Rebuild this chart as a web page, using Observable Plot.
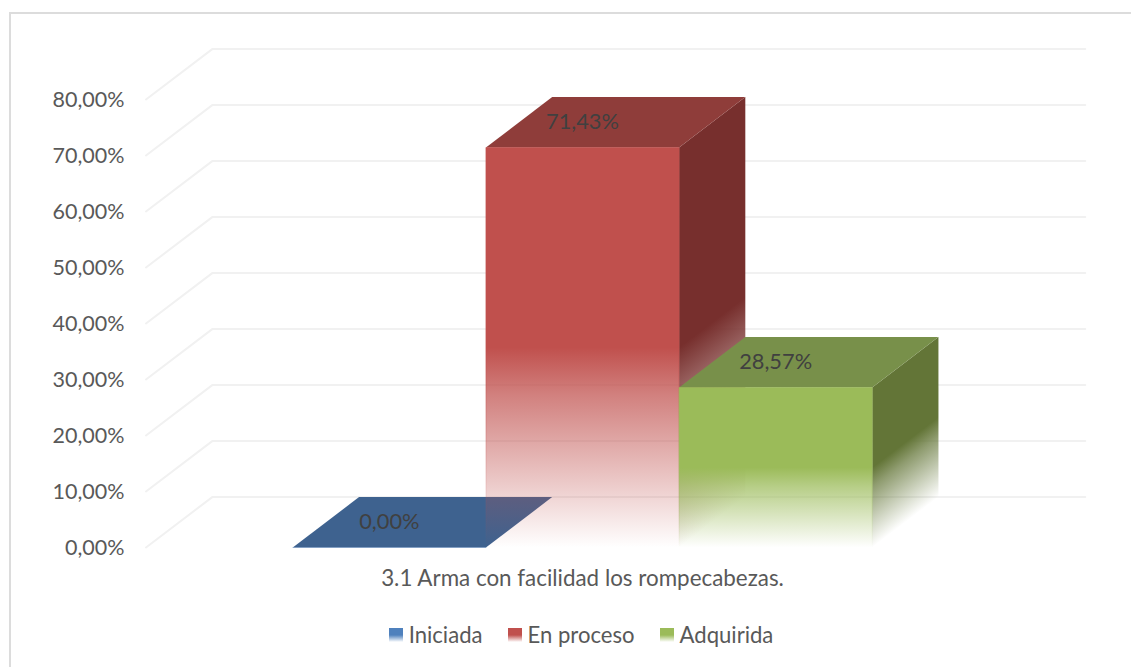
<!DOCTYPE html>
<html>
<head>
<meta charset="utf-8">
<script src="https://cdn.jsdelivr.net/npm/d3@7"></script>
<script src="https://cdn.jsdelivr.net/npm/@observablehq/plot@0.6"></script>
<style>
  html, body { margin: 0; padding: 0; background: #fff; }
  #chart { position: relative; width: 1131px; height: 667px; overflow: hidden; font-family: Lato, "Open Sans", sans-serif; }
  #edge { position: absolute; left: 8.5px; top: 12px; right: -5px; bottom: -5px; border-left: 2px solid #dcdcdc; border-top: 2px solid #dcdcdc; }
  #plot { position: absolute; left: 0; top: 0; }
  #legend { position: absolute; left: 0; width: 1162px; top: 620px; display: flex; justify-content: center; gap: 25px; font-size: 22.1px; line-height: 30px; color: #595959; }
  #legend span.item { display: flex; align-items: center; gap: 6px; }
  #legend i { display: inline-block; width: 14px; height: 14px; }
</style>
</head>
<body>
<div id="chart">
  <div id="edge"></div>
  <div id="plot"></div>
  <div id="legend"></div>
</div>
<script>
const category = "3.1 Arma con facilidad los rompecabezas.";
const seriesNames = ["Iniciada", "En proceso", "Adquirida"];
const seriesValues = [0, 71.43, 28.57];
const valueLabels = ["0,00%", "71,43%", "28,57%"];
const frontColors = ["#4f81bd", "#c0504d", "#9bbb59"];
const topColors = ["#3e628f", "#8f3d3a", "#78904a"];
const sideColors = ["#335279", "#772f2d", "#637537"];
const yTicks = [0, 10, 20, 30, 40, 50, 60, 70, 80];
const yTickLabels = ["0,00%", "10,00%", "20,00%", "30,00%", "40,00%", "50,00%", "60,00%", "70,00%", "80,00%"];

// Oblique projection of the chart's depth axis, in data units of x and y.
const depthX = 0.343, depthY = 9;
const gapX = 0.76;
const xMin = -gapX, xMax = seriesNames.length + gapX;

const bars = seriesNames.map((name, i) => ({name, i, x0: i, x1: i + 1, v: seriesValues[i], label: valueLabels[i]}));
const poly = pts => pts.map(([x, y]) => ({x, y}));

const stops = (sel, color) => {
  const add = (o, a) => sel.append("stop").attr("offset", o).attr("stop-color", color).attr("stop-opacity", a);
  add(0, 1); add(0.5, 1); add(0.62, 0.72); add(1, 0);
};

const defs = (index, {x, y}) => {
  const d = d3.create("svg:defs");
  for (const b of bars) {
    stops(d.append("linearGradient").attr("id", `front${b.i}`)
      .attr("x1", 0).attr("y1", 0).attr("x2", 0).attr("y2", 1), frontColors[b.i]);
    // side face: stop lines run along the receding bottom edge
    const ex = x(b.x1 + depthX) - x(b.x1), ey = y(depthY) - y(0);
    const H = y(0) - y(b.v), L = Math.hypot(ex, ey);
    const nx = -ey / L, ny = ex / L, D = H * ex / L;
    stops(d.append("linearGradient").attr("id", `side${b.i}`).attr("gradientUnits", "userSpaceOnUse")
      .attr("x1", x(b.x1)).attr("y1", y(b.v))
      .attr("x2", x(b.x1) + nx * D).attr("y2", y(b.v) + ny * D), sideColors[b.i]);
  }
  return d.node();
};

const gridColor = "#f1f1f1";
const marks = [
  defs,
  Plot.axisY({ticks: yTicks, tickSize: 0, tickPadding: 21.5, dy: 1, tickFormat: v => yTickLabels[yTicks.indexOf(v)],
    fontSize: 21.5, fill: "#595959", label: null}),
  ...yTicks.map(v => Plot.line(poly([[xMin, v], [xMin + depthX, v + depthY], [xMax + depthX, v + depthY]]),
    {x: "x", y: "y", stroke: gridColor, strokeWidth: 2})),
];
for (const b of bars) {
  const {x0, x1, v, i} = b;
  marks.push(
    Plot.line(poly([[x1, 0], [x1 + depthX, depthY], [x1 + depthX, v + depthY], [x1, v], [x1, 0]]),
      {x: "x", y: "y", fill: `url(#side${i})`, stroke: "none"}),
    Plot.line(poly([[x0, v], [x0 + depthX, v + depthY], [x1 + depthX, v + depthY], [x1, v], [x0, v]]),
      {x: "x", y: "y", fill: topColors[i], stroke: "none"}),
    v > 0
      ? Plot.line(poly([[x0, 0], [x1, 0], [x1, v], [x0, v], [x0, 0]]),
          {x: "x", y: "y", fill: `url(#front${i})`, stroke: `url(#front${i})`, strokeWidth: 1, strokeOpacity: 0.6})
      : Plot.line(poly([[x0, 0], [x1, 0]]), {x: "x", y: "y", stroke: frontColors[i], strokeWidth: 1, strokeOpacity: 0.35})
  );
}
marks.push(
  Plot.text(bars, {x: d => d.x0 + 0.5, y: d => d.v + depthY / 2, text: "label", fontSize: 21.8, fill: "#404040"}),
  Plot.text([category], {x: [(xMin + xMax) / 2], y: [0], dy: 31, fontSize: 22.4, fill: "#595959"})
);

const chart = Plot.plot({
  width: 1131, height: 610,
  marginLeft: 145.5, marginRight: 112.5, marginTop: 99, marginBottom: 63,
  style: {fontFamily: "Lato, 'Open Sans', sans-serif", background: "transparent", overflow: "visible"},
  x: {domain: [xMin, xMax], axis: null},
  y: {domain: [0, 80], axis: null},
  marks
});
document.getElementById("plot").appendChild(chart);

const legend = d3.select("#legend");
seriesNames.forEach((name, i) => {
  const item = legend.append("span").attr("class", "item");
  item.append("i").style("background", `linear-gradient(${frontColors[i]} 50%, #fff 100%)`);
  item.append("span").text(name);
});
</script>
</body>
</html>
